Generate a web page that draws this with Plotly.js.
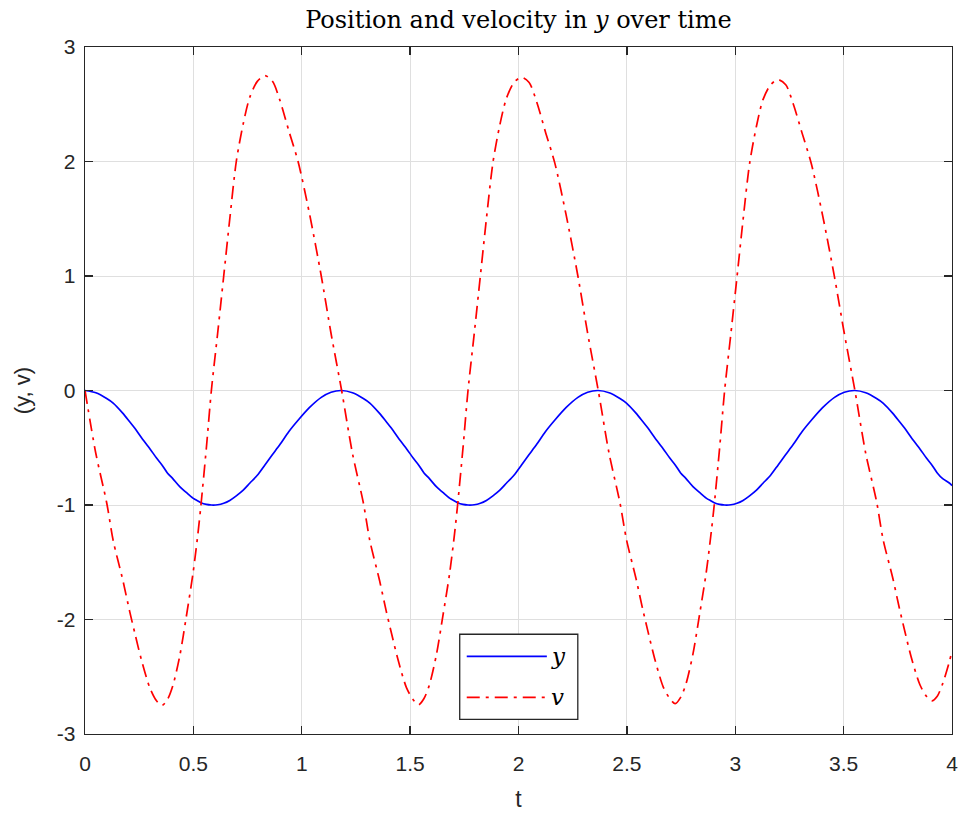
<!DOCTYPE html>
<html>
<head>
<meta charset="utf-8">
<script src="https://cdn.plot.ly/plotly-3.0.1.min.js"></script>
<style>
html,body{margin:0;padding:0;background:#fff;}
#chart{width:961px;height:814px;}
</style>
</head>
<body>
<div id="chart"></div>
<script>
// time samples (s)
const t = [
  0, 0.05, 0.10, 0.13, 0.175, 0.205, 0.23, 0.26, 0.30, 0.33, 0.355, 0.38, 0.405, 0.437, 0.467, 0.498, 0.521, 0.535, 0.56, 0.583, 0.612, 0.64, 0.668, 0.698, 0.73, 0.76, 0.795, 0.83, 0.865, 0.90, 0.94, 0.983, 1.035, 1.09, 1.135,
  1.184, 1.234, 1.284, 1.314, 1.359, 1.389, 1.414, 1.444, 1.484, 1.514, 1.539, 1.564, 1.589, 1.621, 1.651, 1.682, 1.705, 1.719, 1.744, 1.767, 1.796, 1.824, 1.852, 1.882, 1.914, 1.944, 1.979, 2.014, 2.049, 2.084, 2.124, 2.167, 2.219, 2.274, 2.319,
  2.368, 2.418, 2.468, 2.498, 2.543, 2.573, 2.598, 2.628, 2.668, 2.698, 2.723, 2.748, 2.773, 2.805, 2.835, 2.866, 2.889, 2.903, 2.928, 2.951, 2.980, 3.008, 3.036, 3.066, 3.098, 3.128, 3.163, 3.198, 3.233, 3.268, 3.308, 3.351, 3.403, 3.458, 3.503,
  3.552, 3.602, 3.652, 3.682, 3.727, 3.757, 3.782, 3.812, 3.852, 3.882, 3.907, 3.932, 3.957, 3.989, 4.0
];
// position y
const yPos = [
  0, -0.02, -0.07, -0.11, -0.20, -0.27, -0.33, -0.41, -0.51, -0.59, -0.65, -0.72, -0.77, -0.84, -0.89, -0.94, -0.965, -0.98, -0.995, -1.0, -0.998, -0.985, -0.96, -0.92, -0.87, -0.81, -0.74, -0.65, -0.56, -0.47, -0.36, -0.26, -0.15, -0.06, -0.015,
  0, -0.02, -0.07, -0.11, -0.20, -0.27, -0.33, -0.41, -0.51, -0.59, -0.65, -0.72, -0.77, -0.84, -0.89, -0.94, -0.965, -0.98, -0.995, -1.0, -0.998, -0.985, -0.96, -0.92, -0.87, -0.81, -0.74, -0.65, -0.56, -0.47, -0.36, -0.26, -0.15, -0.06, -0.015,
  0, -0.02, -0.07, -0.11, -0.20, -0.27, -0.33, -0.41, -0.51, -0.59, -0.65, -0.72, -0.77, -0.84, -0.89, -0.94, -0.965, -0.98, -0.995, -1.0, -0.998, -0.985, -0.96, -0.92, -0.87, -0.81, -0.74, -0.65, -0.56, -0.47, -0.36, -0.26, -0.15, -0.06, -0.015,
  0, -0.02, -0.07, -0.11, -0.20, -0.27, -0.33, -0.41, -0.51, -0.59, -0.65, -0.72, -0.77, -0.81, -0.83
];
// velocity v
const vVel = [
  0, -0.55, -0.98, -1.31, -1.66, -1.92, -2.12, -2.35, -2.60, -2.71, -2.75, -2.70, -2.58, -2.32, -1.98, -1.60, -1.25, -1.00, -0.50, 0.00, 0.50, 1.00, 1.50, 2.00, 2.33, 2.56, 2.70, 2.75, 2.70, 2.53, 2.27, 2.00, 1.55, 1.00, 0.50,
  0, -0.55, -0.98, -1.31, -1.66, -1.92, -2.12, -2.35, -2.60, -2.70, -2.745, -2.69, -2.57, -2.31, -1.97, -1.60, -1.25, -1.00, -0.50, 0.00, 0.50, 1.00, 1.50, 1.99, 2.32, 2.55, 2.69, 2.735, 2.69, 2.52, 2.26, 1.99, 1.54, 1.00, 0.50,
  0, -0.55, -0.98, -1.30, -1.65, -1.91, -2.11, -2.34, -2.59, -2.69, -2.735, -2.68, -2.56, -2.30, -1.96, -1.59, -1.24, -1.00, -0.50, 0.00, 0.50, 0.99, 1.49, 1.98, 2.31, 2.54, 2.67, 2.715, 2.67, 2.50, 2.25, 1.98, 1.53, 0.99, 0.50,
  0, -0.55, -0.97, -1.30, -1.64, -1.90, -2.10, -2.33, -2.57, -2.67, -2.71, -2.67, -2.56, -2.36, -2.27
];
const xTickVals = [0, 0.5, 1, 1.5, 2, 2.5, 3, 3.5, 4];
const xTickText = ["0", "0.5", "1", "1.5", "2", "2.5", "3", "3.5", "4"];
const yTickVals = [-3, -2, -1, 0, 1, 2, 3];
const yTickText = ["-3", "-2", "-1", "0", "1", "2", "3"];
const seriesNames = ["y", "v"];

const axColor = '#262626';
const sansFam = 'Liberation Sans, Arial, sans-serif';
const serifFam = 'DejaVu Serif, Liberation Serif, serif';
const tickFont = {family: sansFam, size: 21, color: axColor};
const lineW = 1.7;
const dashDot = '13px,6px,3px,6px';

const traces = [
  {x: t, y: yPos, type: 'scatter', mode: 'lines', name: seriesNames[0],
   line: {color: '#0000ff', width: lineW, shape: 'spline', smoothing: 0.8}, showlegend: false},
  {x: t, y: vVel, type: 'scatter', mode: 'lines', name: seriesNames[1],
   line: {color: '#ff0000', width: lineW, dash: dashDot, shape: 'spline', smoothing: 0.8}, showlegend: false}
];

// manual legend box (paper coords)
const lgX0 = 0.4322, lgX1 = 0.5684, lgY0 = 0.0213, lgY1 = 0.1452;
const lgLineX0 = 0.4403, lgLineX1 = 0.5327, lgRowY = [0.1131, 0.0533];

const layout = {
  width: 961, height: 814,
  paper_bgcolor: '#ffffff', plot_bgcolor: '#ffffff',
  margin: {l: 85, r: 9, t: 47, b: 80, pad: 0},
  title: {text: 'Position and velocity in <i>y</i> over time',
          font: {family: serifFam, size: 24, color: '#000'},
          x: 0.5395, xanchor: 'center', y: 0.976, yanchor: 'middle'},
  xaxis: {range: [0, 4], tickvals: xTickVals, ticktext: xTickText,
          showline: true, mirror: 'ticks', linecolor: axColor, linewidth: 1.3,
          ticks: 'inside', ticklen: 8, tickwidth: 1.3, tickcolor: axColor,
          ticklabelstandoff: 10,
          showgrid: true, gridcolor: '#dfdfdf', gridwidth: 1, zeroline: false,
          tickfont: tickFont,
          title: {text: 't', font: {family: sansFam, size: 23, color: axColor}, standoff: 17}},
  yaxis: {range: [-3, 3], tickvals: yTickVals, ticktext: yTickText,
          showline: true, mirror: 'ticks', linecolor: axColor, linewidth: 1.3,
          ticks: 'inside', ticklen: 8, tickwidth: 1.3, tickcolor: axColor,
          ticklabelstandoff: 4,
          showgrid: true, gridcolor: '#dfdfdf', gridwidth: 1, zeroline: false,
          tickfont: tickFont,
          title: {text: '(y, v)', font: {family: sansFam, size: 22, color: axColor}, standoff: 20}},
  shapes: [
    {type: 'rect', xref: 'paper', yref: 'paper', x0: lgX0, x1: lgX1, y0: lgY0, y1: lgY1,
     line: {color: axColor, width: 1.3}, fillcolor: '#ffffff'},
    {type: 'line', xref: 'paper', yref: 'paper', x0: lgLineX0, x1: lgLineX1, y0: lgRowY[0], y1: lgRowY[0],
     line: {color: '#0000ff', width: lineW}},
    {type: 'line', xref: 'paper', yref: 'paper', x0: lgLineX0, x1: lgLineX1, y0: lgRowY[1], y1: lgRowY[1],
     line: {color: '#ff0000', width: lineW, dash: dashDot}}
  ],
  annotations: [
    {xref: 'paper', yref: 'paper', x: lgLineX1 + 0.002, y: lgRowY[0], xanchor: 'left', yanchor: 'middle',
     text: '<i>' + seriesNames[0] + '</i>', showarrow: false,
     font: {family: serifFam, size: 23, color: '#000'}},
    {xref: 'paper', yref: 'paper', x: lgLineX1 + 0.002, y: lgRowY[1], xanchor: 'left', yanchor: 'middle',
     text: '<i>' + seriesNames[1] + '</i>', showarrow: false,
     font: {family: serifFam, size: 23, color: '#000'}}
  ],
  showlegend: false
};

Plotly.newPlot('chart', traces, layout, {displayModeBar: false, staticPlot: true});
</script>
</body>
</html>
